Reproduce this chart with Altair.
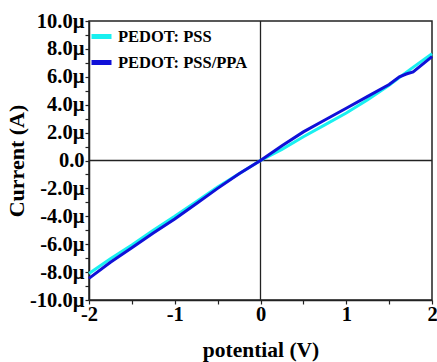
import altair as alt
import pandas as pd

# PEDOT: PSS (cyan)
v_pss = [-2.0, -1.75, -1.5, -1.25, -1.0, -0.75, -0.5, -0.25, 0.0, 0.25, 0.5, 0.75, 1.0, 1.25, 1.5, 1.75, 2.0]
i_pss = [-8.1, -7.05, -6.05, -5.0, -4.0, -2.95, -1.9, -0.95, 0.0, 0.8, 1.7, 2.55, 3.4, 4.35, 5.4, 6.55, 7.65]

# PEDOT: PSS/PPA (blue)
v_ppa = [-2.0, -1.75, -1.5, -1.25, -1.0, -0.75, -0.5, -0.25, 0.0, 0.25, 0.5, 0.75, 1.0, 1.25, 1.5, 1.62, 1.7, 1.78, 2.0]
i_ppa = [-8.45, -7.3, -6.25, -5.2, -4.2, -3.1, -2.0, -0.95, 0.0, 1.05, 2.05, 2.9, 3.75, 4.6, 5.45, 6.0, 6.2, 6.35, 7.45]

series_names = ["PEDOT: PSS", "PEDOT: PSS/PPA"]
series_colors = ["#19F0F0", "#1010D8"]

y_ticks = list(range(-10, 11))
x_ticks = [-2, -1.5, -1, -0.5, 0, 0.5, 1, 1.5, 2]

df = pd.concat([
    pd.DataFrame({"V": v_pss, "I": i_pss, "series": series_names[0], "order": 0}),
    pd.DataFrame({"V": v_ppa, "I": i_ppa, "series": series_names[1], "order": 1}),
])

FONT = "Liberation Serif"

x_scale = alt.Scale(domain=[-2, 2], nice=False, zero=False)
y_scale = alt.Scale(domain=[-10, 10], nice=False, zero=False)

axis_common = dict(
    grid=False, labelOverlap=False, labelBound=False,
    domainColor="#222222", domainWidth=1.5, tickColor="#222222", tickWidth=1.2,
    labelFont=FONT, labelFontWeight="bold", labelColor="black",
    titleFont=FONT, titleFontWeight="bold", titleColor="black",
    tickSize=4,
)

x_axis = alt.Axis(values=x_ticks, title="potential (V)",
                  labelExpr="datum.value % 1 == 0 ? (datum.value < 0 ? '-' : '') + format(abs(datum.value), 'd') : ''",
                  labelPadding=0, titlePadding=15, titleFontSize=21.5, labelFontSize=20.5,
                  labelFlush=False, **axis_common)
y_axis = alt.Axis(values=y_ticks, title="Current (A)",
                  labelExpr="datum.value % 2 != 0 ? '' : (datum.value == 0 ? '0.0' : (datum.value < 0 ? '-' : '') + format(abs(datum.value), '.1f') + 'µ')",
                  labelPadding=1, titlePadding=1, titleFontSize=22, labelFontSize=20.5, **axis_common)

lines = alt.Chart(df).mark_line(strokeWidth=3).encode(
    x=alt.X("V:Q", scale=x_scale, axis=x_axis),
    y=alt.Y("I:Q", scale=y_scale, axis=y_axis),
    color=alt.Color("series:N", scale=alt.Scale(domain=series_names, range=series_colors),
                    legend=alt.Legend(title=None, orient="none", legendX=0, legendY=3,
                                      symbolType="stroke", symbolStrokeWidth=5, symbolSize=400,
                                      labelFont=FONT, labelFontSize=16.5, labelFontWeight="bold",
                                      labelColor="black", rowPadding=3, symbolOffset=0)),
    order="order:Q",
    detail="series:N",
)

zero_df = pd.DataFrame({"V": [0], "I": [0]})
hz = alt.Chart(zero_df).mark_rule(color="#222222", strokeWidth=1.3).encode(
    y=alt.Y("I:Q", scale=y_scale, axis=y_axis))
vz = alt.Chart(zero_df).mark_rule(color="#222222", strokeWidth=1.3).encode(
    x=alt.X("V:Q", scale=x_scale, axis=x_axis))

chart = alt.layer(hz, vz, lines).properties(
    width=343, height=279,
    autosize=alt.AutoSizeParams(type="none"),
    padding={"left": 89, "top": 21, "right": 5, "bottom": 62},
    background="white",
).configure_view(
    stroke="#222222", strokeWidth=1.5
)

chart.save("out.html", embed_options={"renderer": "svg", "actions": False})
